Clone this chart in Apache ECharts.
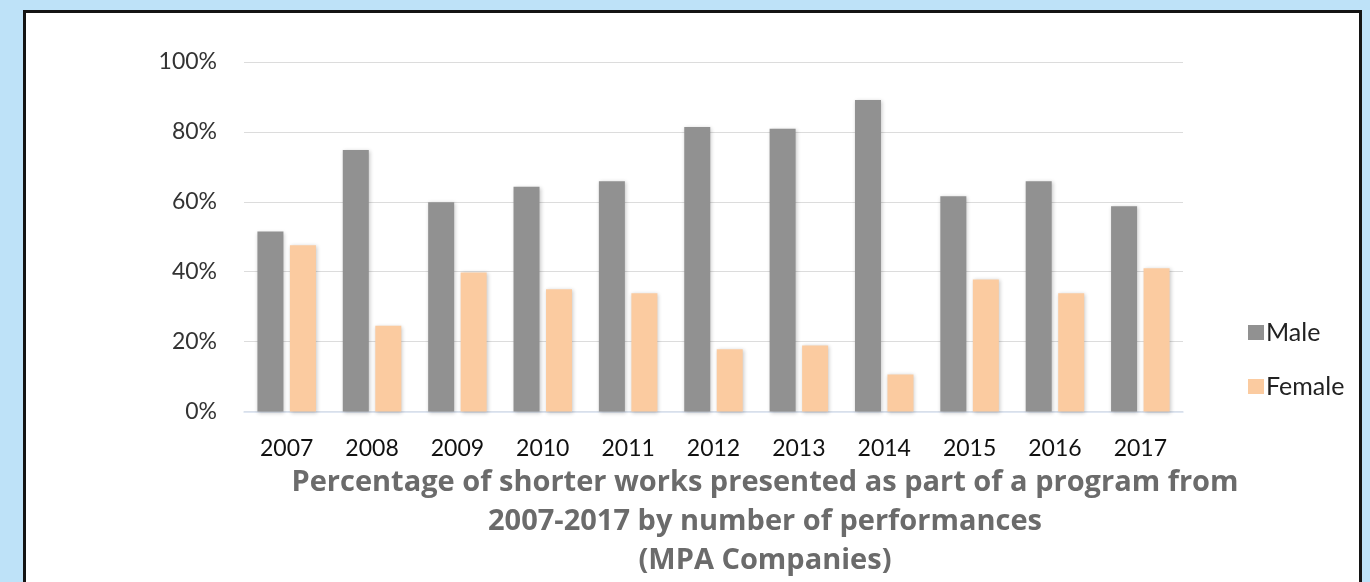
<!DOCTYPE html>
<html>
<head>
<meta charset="utf-8">
<script src="https://cdn.jsdelivr.net/npm/echarts@6/dist/echarts.min.js"></script>
<style>
html,body{margin:0;padding:0;background:#bee2f8;}
#chart{width:1370px;height:582px;}
</style>
</head>
<body>
<div id="chart"></div>
<script>
var years = ['2007','2008','2009','2010','2011','2012','2013','2014','2015','2016','2017'];
var maleValues = [51.5, 74.8, 59.9, 64.3, 65.9, 81.4, 80.9, 89.1, 61.6, 65.9, 58.7];
var femaleValues = [47.6, 24.5, 39.8, 35.0, 33.8, 17.8, 18.9, 10.6, 37.8, 33.8, 41.0];
var seriesNames = ['Male', 'Female'];
var yTicks = [0, 20, 40, 60, 80, 100];
var titleText = 'Percentage of shorter works presented as part of a program from\n2007-2017 by number of performances\n(MPA Companies)';

var chart = echarts.init(document.getElementById('chart'), null, {renderer:'canvas'});
var shadow = {shadowColor:'rgba(0,0,0,0.22)', shadowBlur:4, shadowOffsetX:1, shadowOffsetY:1};
chart.setOption({
  backgroundColor:'#bee2f8',
  animation:false,
  graphic:[{
    type:'rect', silent:true, z:-10,
    shape:{x:24.5, y:11.5, width:1336, height:600},
    style:{fill:'#ffffff', stroke:'#141414', lineWidth:3}
  }],
  title:{
    text:titleText,
    left:760, top:458, textAlign:'center',
    textStyle:{fontFamily:'Open Sans', fontWeight:'bold', fontSize:29, color:'#6b6b6b', lineHeight:39}
  },
  legend:{
    orient:'vertical', left:1243, top:315,
    itemWidth:16, itemHeight:15, itemGap:29,
    icon:'rect',
    textStyle:{fontFamily:'Lato', fontSize:25, color:'#222', padding:[0,0,0,-3]},
    data:seriesNames
  },
  grid:{left:244, right:187, top:62, bottom:170.5, containLabel:false},
  xAxis:{
    type:'category', data:years,
    axisLine:{lineStyle:{color:'#d6e0ee', width:1.5}},
    axisTick:{show:false},
    axisLabel:{fontFamily:'Lato', fontSize:23, color:'#111', margin:26}
  },
  yAxis:{
    type:'value', min:0, max:100, interval:20,
    axisLabel:{fontFamily:'Lato', fontSize:23, color:'#333', margin:27,
      formatter:function(v){ return yTicks.indexOf(v) >= 0 ? v + '%' : ''; }},
    axisLine:{show:false}, axisTick:{show:false},
    splitLine:{lineStyle:{color:'#dcdcdc', width:1.2}}
  },
  series:[
    {name:seriesNames[0], type:'bar', data:maleValues, barWidth:26, barGap:'25%',
     itemStyle:Object.assign({color:'#919191'}, shadow)},
    {name:seriesNames[1], type:'bar', data:femaleValues, barWidth:26,
     itemStyle:Object.assign({color:'#fbcba0'}, shadow)}
  ]
});
</script>
</body>
</html>
